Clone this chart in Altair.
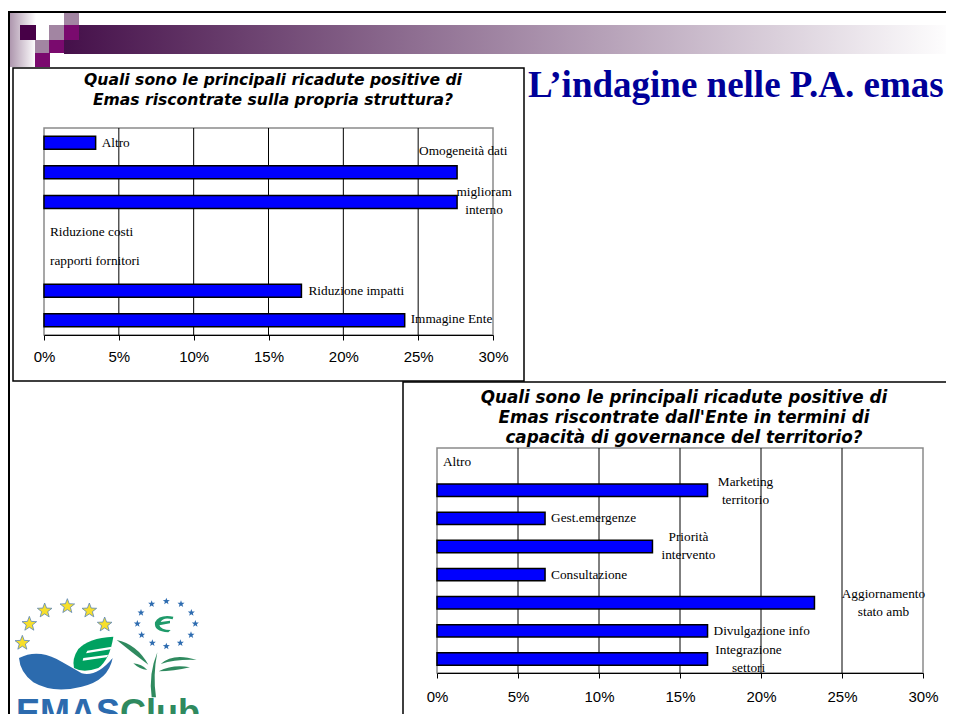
import altair as alt
import pandas as pd
import math

# ---- chart data (percent) ----
cats_a = ["Altro", "Omogeneità dati", "miglioram interno", "Riduzione costi",
          "rapporti fornitori", "Riduzione impatti", "Immagine Ente"]
vals_a = [3.45, 27.6, 27.6, 0, 0, 17.2, 24.1]
text_a = ["Altro", "Omogeneità dati", "miglioram\ninterno", "Riduzione costi",
          "rapporti fornitori", "Riduzione impatti", "Immagine Ente"]

cats_b = ["Altro", "Marketing territorio", "Gest.emergenze", "Priorità intervento",
          "Consultazione", "Aggiornamento stato amb", "Divulgazione info", "Integrazione settori"]
vals_b = [0, 16.7, 6.67, 13.3, 6.67, 23.3, 16.7, 16.7]
text_b = ["Altro", "Marketing\nterritorio", "Gest.emergenze", "Priorità\nintervento",
          "Consultazione", "Aggiornamento\nstato amb", "Divulgazione info", "Integrazione\nsettori"]

ticks = [0, 5, 10, 15, 20, 25, 30]
title_a = ["Quali sono le principali ricadute positive di", "Emas riscontrate sulla propria struttura?"]
title_b = ["Quali sono le principali ricadute positive di", "Emas riscontrate dall'Ente in termini di",
           "capacità di governance del territorio?"]
slide_title = "L’indagine nelle P.A. emas"

W, H = 938, 706
OX, OY = 8, 8  # page margin


def px(v):
    return alt.value(v - OX)


def py(v):
    return alt.value(v - OY)


blank = alt.Data(values=[{"k": 0}])
layers = []


def rect(x0, x1, y0, y1, fill="#fff", stroke=None, sw=1):
    kw = dict(fill=fill)
    if stroke:
        kw.update(stroke=stroke, strokeWidth=sw)
    layers.append(alt.Chart(blank).mark_rect(**kw).encode(x=px(x0), x2=px(x1), y=py(y0), y2=py(y1)))


def hgrad(c0, c1):
    return alt.Gradient(gradient="linear", x1=0, x2=1, y1=0, y2=0,
                        stops=[alt.GradientStop(color=c0, offset=0), alt.GradientStop(color=c1, offset=1)])


def txt(s, x, y, **kw):
    layers.append(alt.Chart(blank).mark_text(**kw).encode(x=px(x), y=py(y), text=alt.value(s)))


# ---- slide decoration ----
rect(8, 36, 13, 67, fill=hgrad("#a88fa8", "#ffffff"))
rect(64, 954, 25, 54, fill=hgrad("#45104a", "#ffffff"))
for (x0, x1, y0, y1, c) in [
    (20, 36, 25, 40, "#470047"), (36, 49, 25, 40, "#ffffff"), (49, 64, 25, 40, "#a285a2"),
    (64, 79, 13, 25, "#a285a2"), (64, 79, 25, 40, "#7a0a6e"), (35, 49, 40, 53, "#a285a2"),
    (49, 64, 40, 53, "#7a0a6e"), (35, 50, 53, 67, "#7a0a6e"),
]:
    rect(x0, x1, y0, y1, fill=c)
rect(8, 954, 11, 13, fill="#000")
rect(8, 10, 11, 722, fill="#000")

txt(slide_title, 528, 86, font="Liberation Serif", fontSize=37, fontWeight="bold", color="#000099", align="left")


# ---- bar panels ----
def panel(box, plot, cats, vals, labels, offsets, title, title_x, title_ys, title_size, lab_size, lab_pad):
    bx0, bx1, by0, by1 = box
    x0, x1, y0, y1 = plot
    rect(bx0, bx1, by0, by1, fill="#fff", stroke="#000", sw=1.5)
    rect(x0, x1, y0, y1, fill="#fff", stroke="#8a8a8a", sw=1.5)
    for i, t in enumerate(title):
        txt(t, title_x, title_ys[i], font="DejaVu Sans", fontSize=title_size, fontWeight="bold", fontStyle="italic",
            align="center", color="#000")
    xs = alt.Scale(domain=[0, 30], range=[x0 - OX, x1 - OX], nice=False, zero=True)
    ys = alt.Scale(domain=cats, range=[y0 - OY, y1 - OY], paddingInner=0.56, paddingOuter=0.28)
    grid = pd.DataFrame({"t": ticks[1:-1]})
    layers.append(alt.Chart(grid).mark_rule(color="#000", strokeWidth=1).encode(
        x=alt.X("t:Q", scale=xs, axis=None), y=py(y0), y2=py(y1)))
    df = pd.DataFrame({"cat": cats, "value": vals, "label": labels})
    layers.append(alt.Chart(df).transform_filter("datum.value > 0").mark_bar(
        color="#0000ff", stroke="#000", strokeWidth=1.5).encode(
        x=alt.X("value:Q", scale=xs, axis=alt.Axis(
            orient="bottom", zindex=1, values=ticks, title=None, grid=False, domainColor="#000",
            tickColor="#000", tickSize=5,
            labelColor="#000", labelFont="Liberation Sans", labelFontSize=15, labelPadding=lab_pad,
            labelExpr="datum.value + '%'", labelFlush=False, offset=(y1 - OY) - H)),
        y=alt.Y("cat:N", scale=ys, axis=None, sort=None)))
    for row, (dx, dy, al) in zip(df.to_dict("records"), offsets):
        layers.append(alt.Chart(pd.DataFrame([row])).mark_text(
            font="Liberation Serif", fontSize=lab_size, color="#000", align=al, baseline="middle",
            dx=dx, dy=dy, lineBreak="\n", lineHeight=18).encode(
            x=alt.X("value:Q", scale=xs, axis=None),
            y=alt.Y("cat:N", scale=ys, axis=None, sort=None),
            text="label:N"))


panel((13, 524, 68, 381), (44, 493, 128, 335), cats_a, vals_a, text_a,
      [(6, 0, "left"), (-38, -21, "left"), (27, -10, "center"), (6, 0, "left"),
       (6, 0, "left"), (7, 0, "left"), (6, -1, "left")],
      title_a, 273, [80, 100], 15.6, 13.3, 9)
panel((403, 962, 382, 730), (437, 923, 448, 673), cats_b, vals_b, text_b,
      [(6, 0, "left"), (38, -8, "center"), (6, 0, "left"), (36, -9, "center"), (6, 0, "left"),
       (69, -9, "center"), (6, 0, "left"), (41, -9, "center")],
      title_b, 684, [398, 418, 438], 16.8, 13.3, 11)


# ---- logo (paths in local units, 3 units per pixel) ----
def shape(path, fill, stroke=None, sw=0):
    kw = dict(shape=path, filled=True, color=fill, size=4 / 9, opacity=1, fillOpacity=1)
    if stroke:
        kw.update(stroke=stroke, strokeWidth=sw)
    layers.append(alt.Chart(blank).mark_point(**kw).encode(x=px(0), y=py(584)))


def star(cx, cy, R):
    pts = []
    for i in range(10):
        r = R if i % 2 == 0 else R * 0.42
        a = -math.pi / 2 + i * math.pi / 5
        pts.append(f"{cx + r * math.cos(a):.1f} {cy + r * math.sin(a):.1f}")
    return "M" + " L".join(pts) + " Z"


for c in [(67, 177), (88, 120), (134, 80), (202, 67), (268, 80), (314, 122)]:
    shape(star(c[0], c[1], 23), "#f7df2c", "#5b85b8", 0.8)
for c in [(499, 52), (543, 60), (574, 86), (586, 119), (573, 153), (541, 177), (499, 187),
          (457, 177), (425, 153), (412, 119), (423, 86), (455, 60)]:
    shape(star(c[0], c[1], 11), "#2e6cb0")

shape("M57 222 Q110 195 170 225 Q215 250 245 268 Q290 280 338 222 Q325 290 245 308 "
      "Q160 330 100 295 Q60 265 57 222 Z", "#2c6bae")
shape("M340 158 Q265 162 235 195 Q215 225 222 252 Q250 268 295 252 Q330 225 340 158 Z", "#00a160")
shape("M262 200 L335 188 L332 196 L258 208 Z", "#ffffff")
shape("M250 222 L325 212 L320 220 L248 230 Z", "#ffffff")
shape("M350 168 Q410 180 445 242 Q395 205 350 168 Z", "#2f8a5f")
shape("M400 238 Q425 240 442 258 Q418 256 400 238 Z", "#2f8a5f")
shape("M455 340 Q445 270 472 205 Q458 275 468 340 Z", "#2f8a5f")
shape("M482 240 Q520 205 590 228 Q530 225 482 240 Z", "#2f8a5f")
shape("M476 262 Q520 240 570 250 Q520 262 476 262 Z", "#2f8a5f")
shape("M520 98 Q478 90 465 115 Q460 142 505 145 L512 138 Q482 138 478 124 L510 118 L510 110 "
      "L482 114 Q490 98 518 106 Z", "#1f9a6a")

txt("EMAS", 16, 714, font="Liberation Sans", fontSize=36, fontWeight="bold", color="#2c6bae", align="left")
txt("Club", 120, 714, font="Liberation Sans", fontSize=36, fontWeight="bold", color="#2f8a5f", align="left")

chart = alt.layer(*layers).resolve_scale(x="independent", y="independent").properties(
    width=W, height=H, padding=0, autosize=alt.AutoSizeParams(type="none")
).configure_view(stroke=None)

chart.save("out.html", embed_options={"renderer": "svg", "actions": False})
